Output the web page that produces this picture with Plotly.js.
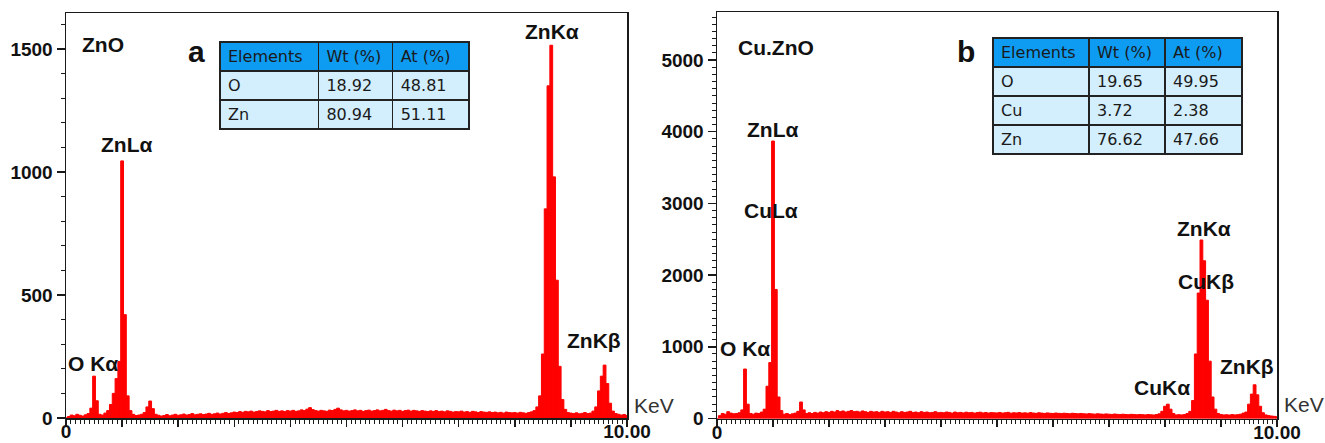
<!DOCTYPE html>
<html>
<head>
<meta charset="utf-8">
<script src="https://cdn.plot.ly/plotly-3.0.1.min.js"></script>
<style>html,body{margin:0;padding:0;background:#fff;}#chart{width:1325px;height:443px;}</style>
</head>
<body>
<div id="chart"></div>
<script>
// Energy channels: 0.00 .. 10.00 keV in steps of 0.05 keV (channel start and width given to Plotly as x0/dx)
const energyStart = 0;
const energyStep = 0.05;

// Panel a: ZnO counts per channel
const countsZnO = [
  0, 6, 12, 9, 15, 11, 8, 13, 18, 40,
  170, 70, 15, 12, 20, 30, 55, 100, 160, 230,
  1045, 420, 90, 30, 15, 10, 12, 15, 22, 45,
  69, 38, 15, 11, 8, 10, 14, 9, 12, 15,
  11, 13, 16, 12, 14, 18, 13, 15, 17, 14,
  16, 19, 15, 17, 20, 16, 19, 22, 18, 21,
  24, 22, 26, 23, 27, 25, 28, 24, 26, 29,
  27, 25, 30, 26, 28, 31, 27, 29, 26, 30,
  28, 31, 27, 29, 33, 30, 36, 42, 34, 30,
  28, 31, 29, 27, 32, 30, 35, 40, 33, 29,
  31, 28, 30, 33, 29, 31, 27, 30, 32, 28,
  30, 33, 29, 31, 35, 30, 28, 32, 29, 31,
  27, 30, 32, 28, 31, 29, 27, 30, 28, 26,
  29, 27, 30, 26, 28, 25, 29, 27, 24, 26,
  25, 28, 24, 26, 23, 27, 25, 22, 26, 24,
  23, 25, 22, 24, 21, 23, 20, 24, 22, 21,
  22, 20, 23, 21, 19, 22, 25, 30, 45, 90,
  260, 850, 1350, 1515, 980, 560, 210, 75, 35, 22,
  20, 18, 21, 17, 19, 22, 18, 20, 28, 45,
  110, 170, 215, 140, 60, 28, 18, 15, 12, 14,
  10
];

// Panel b: Cu.ZnO counts per channel
const countsCuZnO = [
  0, 40, 70, 60, 95, 75, 65, 70, 80, 120,
  690, 200, 70, 60, 75, 70, 90, 130, 450, 780,
  3870, 1800, 300, 110, 60, 70, 55, 65, 75, 100,
  230, 120, 70, 80, 70, 85, 75, 90, 80, 95,
  85, 100, 90, 110, 95, 105, 90, 100, 110, 95,
  100, 90, 105, 95, 85, 100, 90, 95, 85, 100,
  90, 95, 85, 100, 90, 80, 95, 85, 90, 100,
  85, 90, 80, 95, 85, 90, 80, 85, 95, 80,
  85, 80, 90, 85, 75, 90, 80, 85, 78, 88,
  80, 85, 75, 82, 88, 78, 84, 76, 82, 79,
  78, 84, 75, 80, 86, 74, 80, 77, 83, 75,
  79, 74, 82, 76, 72, 80, 75, 71, 78, 73,
  70, 76, 72, 68, 74, 70, 66, 73, 69, 65,
  70, 66, 63, 68, 64, 61, 66, 62, 59, 64,
  60, 57, 62, 58, 55, 60, 56, 53, 58, 55,
  52, 56, 53, 50, 55, 52, 49, 55, 65, 100,
  170, 200, 130, 70, 50, 53, 50, 55, 70, 100,
  250, 900, 1750, 2490, 2200, 1650, 800, 300, 130, 70,
  55, 50, 52, 48, 55, 50, 53, 60, 75, 90,
  200, 340, 470, 330, 170, 80, 50, 40, 35, 30,
  25
];

// x tick labels
const xTickVals = [0, 1, 2, 3, 4, 5, 6, 7, 8, 9, 10];
const xTickText = ['0', '', '', '', '', '', '', '', '', '', '10.00'];

// Peak labels [text, keV, counts]
const peaksZnO = [
  ['O Kα', 0.48, 220],
  ['ZnLα', 1.07, 1110],
  ['ZnKα', 8.66, 1569],
  ['ZnKβ', 9.41, 313]
];
const peaksCuZnO = [
  ['O Kα', 0.50, 983],
  ['ZnLα', 0.99, 4025],
  ['CuLα', 0.96, 2895],
  ['CuKα', 7.95, 432],
  ['ZnKα', 8.70, 2657],
  ['CuKβ', 8.74, 1911],
  ['ZnKβ', 9.46, 732]
];

// Composition tables (non-breaking spaces keep header cells on one line)
const tableHeader = ['Elements', 'Wt\u00a0(%)', 'At\u00a0(%)'];
const tableAElements = ['O', 'Zn'];
const tableAWt = ['18.92', '80.94'];
const tableAAt = ['48.81', '51.11'];
const tableBElements = ['O', 'Cu', 'Zn'];
const tableBWt = ['19.65', '3.72', '76.62'];
const tableBAt = ['49.95', '2.38', '47.66'];

const W = 1325, H = 443;
const px = v => v / W;
const py = v => (H - v) / H;

const red = '#ff0000';
const axisColor = '#1a1a1a';
const FAM = 'Liberation Sans, Arial, sans-serif';
const tickFont = {family: FAM, size: 19, color: '#111', weight: 'bold'};
const labelFont = {family: FAM, size: 21, color: '#111', weight: 'bold'};
const tblFont = {family: 'DejaVu Sans, sans-serif', size: 16, color: '#1a1a1a'};

const traces = [
  {type: 'bar', x0: energyStart, dx: energyStep, y: countsZnO, xaxis: 'x', yaxis: 'y',
   marker: {color: red, line: {width: 1, color: red}}, hoverinfo: 'skip'},
  {type: 'bar', x0: energyStart, dx: energyStep, y: countsCuZnO, xaxis: 'x2', yaxis: 'y2',
   marker: {color: red, line: {width: 1, color: red}}, hoverinfo: 'skip'},
  {type: 'table',
   domain: {x: [px(220), px(469)], y: [py(180), py(42)]},
   columnwidth: [98, 74, 76],
   header: {values: tableHeader, align: 'left', height: 29,
            fill: {color: '#0e9bf2'}, line: {color: '#222', width: 1.5}, font: tblFont},
   cells: {values: [tableAElements, tableAWt, tableAAt], align: 'left', height: 29,
           fill: {color: '#d3eefc'}, line: {color: '#222', width: 1.5}, font: tblFont}},
  {type: 'table',
   domain: {x: [px(993), px(1243)], y: [py(210), py(38)]},
   columnwidth: [96, 76, 77],
   header: {values: tableHeader, align: 'left', height: 29,
            fill: {color: '#0e9bf2'}, line: {color: '#222', width: 1.5}, font: tblFont},
   cells: {values: [tableBElements, tableBWt, tableBAt], align: 'left', height: 29,
           fill: {color: '#d3eefc'}, line: {color: '#222', width: 1.5}, font: tblFont}}
];

function xAxis(domain) {
  return {
    domain: domain, range: [0, 10], showgrid: false, zeroline: false,
    showline: true, linecolor: axisColor, linewidth: 1.5, mirror: true,
    ticks: 'outside', ticklen: 7, tickwidth: 1.5, tickcolor: axisColor,
    tickmode: 'array', tickvals: xTickVals, ticktext: xTickText,
    tickfont: tickFont, ticklabelstandoff: -11, fixedrange: true,
    minor: {ticks: 'outside', ticklen: 4, tickwidth: 1, tickcolor: axisColor, dtick: 1/12, tick0: 0, showgrid: false}
  };
}
function yAxis(domain, range, dtick, anchor) {
  return {
    domain: domain, range: range, anchor: anchor, showgrid: false, zeroline: false,
    showline: true, linecolor: axisColor, linewidth: 1.5, mirror: true,
    ticks: 'outside', ticklen: 8, tickwidth: 1.5, tickcolor: axisColor,
    dtick: dtick, tick0: 0, tickfont: tickFont, fixedrange: true,
    minor: {ticks: 'outside', ticklen: 4, tickwidth: 1, tickcolor: axisColor, dtick: 100, tick0: 0, showgrid: false}
  };
}

const annotations = [];
peaksZnO.forEach(p => annotations.push({xref: 'x', yref: 'y', x: p[1], y: p[2], text: p[0],
  showarrow: false, font: labelFont, xanchor: 'center', yanchor: 'middle'}));
peaksCuZnO.forEach(p => annotations.push({xref: 'x2', yref: 'y2', x: p[1], y: p[2], text: p[0],
  showarrow: false, font: labelFont, xanchor: 'center', yanchor: 'middle'}));
annotations.push(
  {xref: 'x', yref: 'y', x: 0.66, y: 1516, text: 'ZnO', showarrow: false, font: labelFont},
  {xref: 'x', yref: 'y', x: 2.32, y: 1490, text: 'a', showarrow: false,
   font: {family: FAM, size: 30, color: '#111', weight: 'bold'}},
  {xref: 'x2', yref: 'y2', x: 1.045, y: 5175, text: 'Cu.ZnO', showarrow: false, font: labelFont},
  {xref: 'x2', yref: 'y2', x: 4.45, y: 5120, text: 'b', showarrow: false,
   font: {family: FAM, size: 30, color: '#111', weight: 'bold'}},
  {xref: 'paper', yref: 'paper', x: px(632), y: py(405), text: 'KeV', showarrow: false,
   xanchor: 'left', yanchor: 'middle', font: {family: FAM, size: 21, color: '#333'}},
  {xref: 'paper', yref: 'paper', x: px(1282), y: py(404), text: 'KeV', showarrow: false,
   xanchor: 'left', yanchor: 'middle', font: {family: FAM, size: 21, color: '#333'}}
);

const layout = {
  width: W, height: H, autosize: false,
  margin: {l: 0, r: 0, t: 0, b: 0},
  paper_bgcolor: '#fff', plot_bgcolor: '#fff',
  showlegend: false, bargap: 0, barmode: 'overlay',
  xaxis: Object.assign(xAxis([px(66), px(627)]), {anchor: 'y'}),
  yaxis: yAxis([py(418), py(13)], [0, 1646], 500, 'x'),
  xaxis2: Object.assign(xAxis([px(717), px(1277)]), {anchor: 'y2'}),
  yaxis2: yAxis([py(418.5), py(12)], [0, 5670], 1000, 'x2'),
  annotations: annotations
};

Plotly.newPlot('chart', traces, layout, {staticPlot: true, displayModeBar: false});
</script>
</body>
</html>
